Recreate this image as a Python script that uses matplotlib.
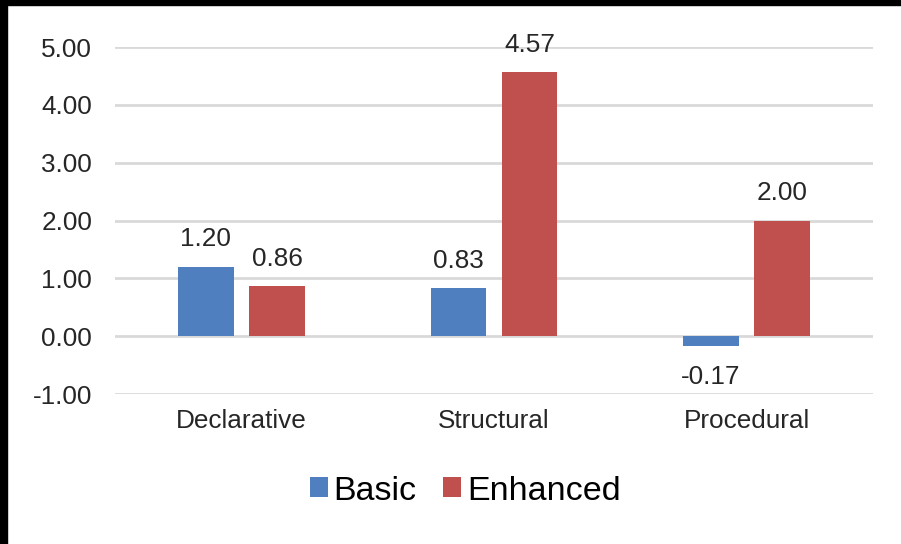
import matplotlib
matplotlib.use("Agg")
import matplotlib.pyplot as plt
import numpy as np
from matplotlib.patches import Rectangle

plt.rcParams["font.family"] = ["Liberation Sans", "DejaVu Sans"]

categories = ["Declarative", "Structural", "Procedural"]
series_names = ["Basic", "Enhanced"]
basic = [1.20, 0.83, -0.17]
enhanced = [0.86, 4.57, 2.00]
y_ticks = [-1, 0, 1, 2, 3, 4, 5]

C_BASIC = "#4F7FBE"
C_ENH = "#C0504D"
C_GRID = "#D9D9D9"
C_TEXT = "#262626"
FS = 18.8

W, H = 901, 544
fig = plt.figure(figsize=(W / 100, H / 100), dpi=100)
fig.patch.set_facecolor("white")

# axes box in pixels: x 115..873, y 47 (top) .. 394 (bottom)
ax = fig.add_axes([115 / W, 1 - 394 / H, (873 - 115) / W, (394 - 47) / H])

x = np.arange(len(categories))
bw = 0.22
off = 0.141
b1 = ax.bar(x - off, basic, width=bw, color=C_BASIC, zorder=3, label=series_names[0])
b2 = ax.bar(x + off, enhanced, width=bw, color=C_ENH, zorder=3, label=series_names[1])

for bars, vals in [(b1, basic), (b2, enhanced)]:
    for bar, v in zip(bars, vals):
        cx = bar.get_x() + bar.get_width() / 2
        if v >= 0:
            ax.annotate(f"{v:.2f}", (cx, v), xytext=(0, 11), textcoords="offset points",
                        ha="center", va="bottom", fontsize=FS, color=C_TEXT)
        else:
            ax.annotate(f"{v:.2f}", (cx, v), xytext=(0, -14), textcoords="offset points",
                        ha="center", va="top", fontsize=FS, color=C_TEXT)

ax.set_xlim(-0.5, 2.5)
ax.set_ylim(-1, 5)
ax.set_yticks(y_ticks)
ax.set_yticklabels([f"{t:.2f}" for t in y_ticks])
ax.set_xticks(x)
ax.set_xticklabels(categories)
ax.tick_params(axis="both", length=0, labelsize=FS, colors=C_TEXT)
ax.tick_params(axis="y", pad=16.5)
ax.tick_params(axis="x", pad=11)
ax.grid(axis="y", color=C_GRID, linewidth=2, zorder=0)
ax.set_axisbelow(True)
for s in ax.spines.values():
    s.set_visible(False)

fig.legend(handles=[b1, b2], labels=series_names, loc="center",
           bbox_to_anchor=(465 / W, 1 - 491 / H), ncol=2, frameon=False,
           fontsize=24.5, handlelength=0.53, handleheight=0.53,
           handletextpad=0.18, columnspacing=0.76)

# dark strips along the top and left edges
fig.add_artist(Rectangle((0, 1 - 5 / H), 1, 5 / H, transform=fig.transFigure,
                         color="black", zorder=10))
fig.add_artist(Rectangle((0, 0), 7 / W, 1, transform=fig.transFigure,
                         color="black", zorder=10))

fig.savefig("out.png", dpi=100)
